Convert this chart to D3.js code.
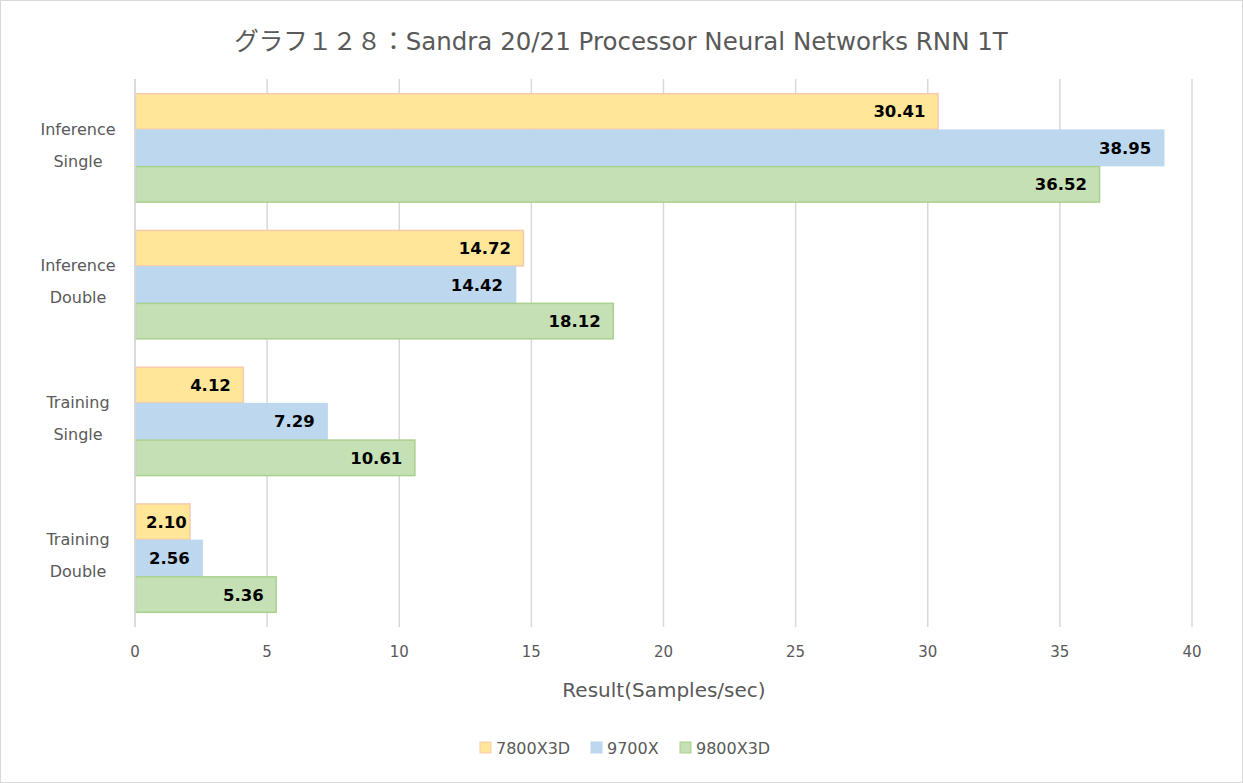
<!DOCTYPE html>
<html><head><meta charset="utf-8">
<script src="https://cdn.jsdelivr.net/npm/d3@7"></script>
<style>body{margin:0;background:#fff;} text{font-family:"DejaVu Sans","Noto Sans CJK JP",sans-serif;}</style>
</head><body>
<svg id="c" width="1243" height="783"></svg>
<script>
const categories = [["Inference","Single"],["Inference","Double"],["Training","Single"],["Training","Double"]];
const seriesNames = ["7800X3D","9700X","9800X3D"];
const s7800X3D = [30.41, 14.72, 4.12, 2.10];
const s9700X = [38.95, 14.42, 7.29, 2.56];
const s9800X3D = [36.52, 18.12, 10.61, 5.36];
const xTicks = [0,5,10,15,20,25,30,35,40];
const titleText = "グラフ１２８：Sandra 20/21 Processor Neural Networks RNN 1T";
const axisTitle = "Result(Samples/sec)";

const fills = ["#FFE699","#BDD7EE","#C5E0B4"];
const strokes = ["#F8CBAD","#BDD7EE","#A9D18E"];
const seriesVals = [s7800X3D, s9700X, s9800X3D];

const svg = d3.select("#c");
svg.append("rect").attr("x",0.5).attr("y",0.5).attr("width",1242).attr("height",782)
  .attr("fill","#fff").attr("stroke","#D9D9D9");

const x = d3.scaleLinear().domain([0,40]).range([135,1192]);
const y = d3.scaleBand().domain(d3.range(categories.length)).range([79.5,626.5]).paddingInner(0.2).paddingOuter(0.1);
const ys = d3.scaleBand().domain(d3.range(3)).range([0,y.bandwidth()]);

// gridlines
svg.append("g").selectAll("line").data(xTicks).join("line")
  .attr("x1",d=>x(d)).attr("x2",d=>x(d)).attr("y1",79).attr("y2",627)
  .attr("stroke","#D9D9D9").attr("stroke-width",1.5);

// bars
seriesVals.forEach((vals,si)=>{
  const g = svg.append("g");
  g.selectAll("rect").data(vals).join("rect")
    .attr("x",x(0)+0.5).attr("y",(d,i)=>y(i)+ys(si)+0.5)
    .attr("width",d=>x(d)-x(0)-1).attr("height",ys.bandwidth()-1)
    .attr("fill",fills[si]).attr("stroke",strokes[si]).attr("stroke-width",1.5);
  g.selectAll("text").data(vals).join("text")
    .attr("y",(d,i)=>y(i)+ys(si)+ys.bandwidth()/2)
    .attr("dy","0.36em").attr("text-anchor","start")
    .attr("font-size",16.5).attr("font-weight","bold").attr("fill","#000")
    .text(d=>d.toFixed(2))
    .attr("x",function(d){
      const w = this.getComputedTextLength();
      return Math.max(x(0)+11, x(d)-13-w);
    });
});

// axis line at 0
svg.append("line").attr("x1",x(0)).attr("x2",x(0)).attr("y1",79).attr("y2",627)
  .attr("stroke","#D9D9D9").attr("stroke-width",1.5);

// tick labels
svg.append("g").selectAll("text").data(xTicks).join("text")
  .attr("x",d=>x(d)).attr("y",657).attr("text-anchor","middle")
  .attr("font-size",15).attr("fill","#595959").text(d=>d);

// category labels
categories.forEach((c,i)=>{
  const cy = y(i)+y.bandwidth()/2;
  svg.append("text").attr("x",78).attr("y",cy-19).attr("dy","0.36em").attr("text-anchor","middle")
    .attr("font-size",16).attr("fill","#595959").text(c[0]);
  svg.append("text").attr("x",78).attr("y",cy+13).attr("dy","0.36em").attr("text-anchor","middle")
    .attr("font-size",16).attr("fill","#595959").text(c[1]);
});

// title
svg.append("text").attr("x",621).attr("y",50).attr("text-anchor","middle")
  .attr("font-size",24.5).attr("fill","#595959").text(titleText);

// axis title
svg.append("text").attr("x",664).attr("y",697).attr("text-anchor","middle")
  .attr("font-size",20).attr("fill","#595959").text(axisTitle);

// legend
const legX = [480,591,680];
seriesNames.forEach((n,i)=>{
  svg.append("rect").attr("x",legX[i]).attr("y",742).attr("width",11).attr("height",11)
    .attr("fill",fills[i]).attr("stroke",strokes[i]);
  svg.append("text").attr("x",legX[i]+16).attr("y",748).attr("dy","0.36em")
    .attr("font-size",16).attr("fill","#595959").text(n);
});
</script>
</body></html>
